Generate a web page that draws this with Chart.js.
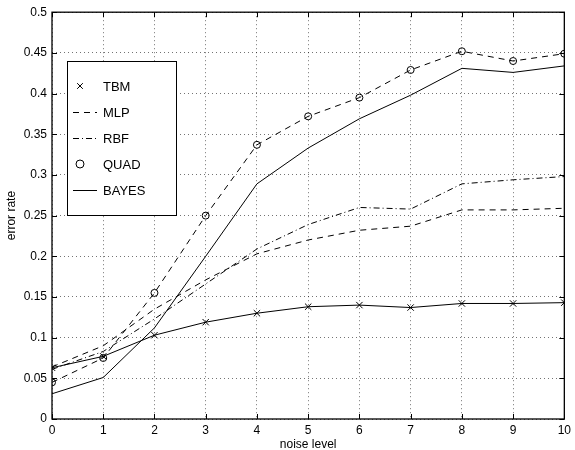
<!DOCTYPE html>
<html>
<head>
<meta charset="utf-8">
<script src="https://cdn.jsdelivr.net/npm/chart.js@4.4.1/dist/chart.umd.min.js"></script>
<style>
  html, body { margin: 0; padding: 0; background: #fff; }
  #wrap { width: 575px; height: 450px; position: relative; }
</style>
</head>
<body>
<div id="wrap"><canvas id="errChart"></canvas></div>
<script>
// noise levels on the x axis
var noiseLevels = [0, 1, 2, 3, 4, 5, 6, 7, 8, 9, 10];

// error rates
var tbm   = [0.063, 0.077, 0.103, 0.119, 0.130, 0.138, 0.140, 0.137, 0.142, 0.142, 0.143];
var mlp   = [0.064, 0.090, 0.135, 0.171, 0.203, 0.220, 0.232, 0.237, 0.257, 0.257, 0.259];
var rbf   = [0.061, 0.083, 0.123, 0.166, 0.209, 0.239, 0.260, 0.258, 0.289, 0.294, 0.298];
var quad  = [0.045, 0.075, 0.155, 0.250, 0.337, 0.372, 0.395, 0.429, 0.452, 0.440, 0.449];
var bayes = [0.031, 0.051, 0.112, 0.200, 0.289, 0.333, 0.369, 0.398, 0.431, 0.426, 0.434];

var yTicks = [0, 0.05, 0.1, 0.15, 0.2, 0.25, 0.3, 0.35, 0.4, 0.45, 0.5];

var FONT = 'Liberation Sans, Arial, Helvetica, sans-serif';

function pts(ys) {
    return noiseLevels.map(function(x, i) { return { x: x, y: ys[i] }; });
}

// legend entries: how each one is shown in the box
var legendItems = [
    { label: 'TBM',   kind: 'marker', style: 'crossRot' },
    { label: 'MLP',   kind: 'line',   dash: [6, 5] },
    { label: 'RBF',   kind: 'line',   dash: [6, 3, 1, 3] },
    { label: 'QUAD',  kind: 'marker', style: 'circle' },
    { label: 'BAYES', kind: 'line',   dash: [] }
];

// box, inward ticks and the legend, drawn like the original plot
var framePlugin = {
    id: 'frame',
    afterDraw: function(chart) {
        var ctx = chart.ctx;
        var a = chart.chartArea;
        var xs = chart.scales.x, ys = chart.scales.y;
        ctx.save();
        ctx.strokeStyle = '#000';
        ctx.lineWidth = 1;
        ctx.setLineDash([]);
        ctx.beginPath();
        noiseLevels.forEach(function(v) {
            var px = Math.round(xs.getPixelForValue(v)) + 0.5;
            ctx.moveTo(px, a.bottom); ctx.lineTo(px, a.bottom - 5);
            ctx.moveTo(px, a.top); ctx.lineTo(px, a.top + 5);
        });
        yTicks.forEach(function(v) {
            var py = Math.round(ys.getPixelForValue(v)) + 0.5;
            ctx.moveTo(a.left, py); ctx.lineTo(a.left + 5, py);
            ctx.moveTo(a.right, py); ctx.lineTo(a.right - 5, py);
        });
        ctx.stroke();
        ctx.lineWidth = 1.3;
        ctx.strokeRect(a.left, a.top, a.right - a.left, a.bottom - a.top);

        // legend box
        var bx = 67, by = 61, bw = 109, bh = 154;
        ctx.fillStyle = '#fff';
        ctx.fillRect(bx, by, bw, bh);
        ctx.lineWidth = 1;
        ctx.strokeRect(bx + 0.5, by + 0.5, bw, bh);
        ctx.font = '13px ' + FONT;
        ctx.textBaseline = 'middle';
        legendItems.forEach(function(it, i) {
            var cy = 86 + i * 26;
            if (it.kind === 'line') {
                ctx.setLineDash(it.dash);
                ctx.lineWidth = 1;
                ctx.beginPath();
                ctx.moveTo(73, cy + 0.5);
                ctx.lineTo(97, cy + 0.5);
                ctx.stroke();
                ctx.setLineDash([]);
            } else {
                ctx.fillStyle = 'rgba(0,0,0,0)';
                Chart.helpers.drawPoint(ctx, { pointStyle: it.style, radius: 4, borderWidth: 1 }, 80, cy);
            }
            ctx.fillStyle = '#000';
            ctx.fillText(it.label, 103, cy + 1);
        });
        ctx.restore();
    }
};

var ctx = document.getElementById('errChart').getContext('2d');
new Chart(ctx, {
    type: 'line',
    data: {
        datasets: [
            {
                label: 'TBM',
                data: pts(tbm),
                borderColor: '#000',
                borderWidth: 1,
                pointStyle: 'crossRot',
                pointRadius: 4.5,
                pointBorderColor: '#000',
                pointBorderWidth: 1,
                tension: 0
            },
            {
                label: 'MLP',
                data: pts(mlp),
                borderColor: '#000',
                borderWidth: 1,
                borderDash: [6, 5],
                pointRadius: 0,
                tension: 0
            },
            {
                label: 'RBF',
                data: pts(rbf),
                borderColor: '#000',
                borderWidth: 1,
                borderDash: [6, 3, 1, 3],
                pointRadius: 0,
                tension: 0
            },
            {
                label: 'QUAD',
                data: pts(quad),
                borderColor: '#000',
                borderWidth: 1,
                borderDash: [6, 5],
                pointStyle: 'circle',
                pointRadius: 3.5,
                pointBackgroundColor: 'rgba(0,0,0,0)',
                pointBorderColor: '#000',
                pointBorderWidth: 1,
                tension: 0
            },
            {
                label: 'BAYES',
                data: pts(bayes),
                borderColor: '#000',
                borderWidth: 1,
                pointRadius: 0,
                tension: 0
            }
        ]
    },
    options: {
        responsive: true,
        maintainAspectRatio: false,
        animation: false,
        layout: { padding: { top: 12, right: 8, left: 0, bottom: 0 } },
        plugins: {
            legend: { display: false },
            tooltip: { enabled: false }
        },
        scales: {
            x: {
                type: 'linear',
                min: 0,
                max: 10,
                afterFit: function(scale) { scale.height = 31; },
                afterBuildTicks: function(scale) {
                    scale.ticks = noiseLevels.map(function(v) { return { value: v }; });
                },
                ticks: {
                    color: '#000',
                    padding: 4,
                    maxRotation: 0,
                    font: { family: FONT, size: 12 }
                },
                grid: { color: 'rgba(0,0,0,0.55)', drawTicks: false, lineWidth: 1 },
                border: { display: false, dash: [1, 3] },
                title: {
                    display: true,
                    text: 'noise level',
                    color: '#000',
                    font: { family: FONT, size: 12 },
                    padding: { top: 0, bottom: -2 }
                }
            },
            y: {
                min: 0,
                max: 0.5,
                afterFit: function(scale) { scale.width = 52; },
                afterBuildTicks: function(scale) {
                    scale.ticks = yTicks.map(function(v) { return { value: v }; });
                },
                ticks: {
                    color: '#000',
                    padding: 5,
                    font: { family: FONT, size: 12 },
                    callback: function(v) { return String(parseFloat(Number(v).toFixed(2))); }
                },
                grid: { color: 'rgba(0,0,0,0.55)', drawTicks: false, lineWidth: 1 },
                border: { display: false, dash: [1, 3] },
                title: {
                    display: true,
                    text: 'error rate',
                    color: '#000',
                    font: { family: FONT, size: 12 },
                    padding: { top: 4, bottom: 0 }
                }
            }
        }
    },
    plugins: [framePlugin]
});
</script>
</body>
</html>
